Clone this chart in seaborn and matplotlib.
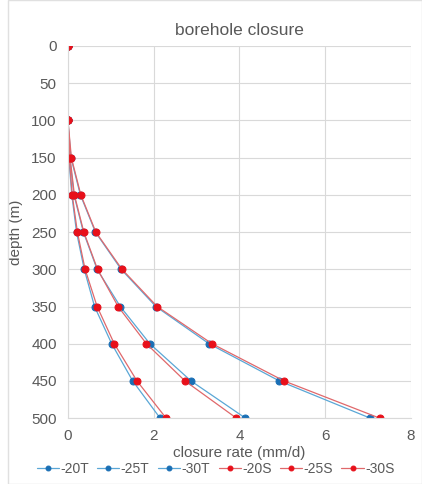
import pandas as pd
import matplotlib.pyplot as plt
import seaborn as sns

depth = [0, 100, 150, 200, 250, 300, 350, 400, 450, 500]

t20 = [0, 0.0, 0.02, 0.09, 0.20, 0.38, 0.62, 1.02, 1.51, 2.15]
t25 = [0, 0.0, 0.04, 0.14, 0.36, 0.68, 1.22, 1.91, 2.87, 4.14]
t30 = [0, 0.0, 0.07, 0.29, 0.64, 1.24, 2.05, 3.29, 4.93, 7.05]
s20 = [0, 0.0, 0.03, 0.10, 0.22, 0.40, 0.68, 1.08, 1.61, 2.29]
s25 = [0, 0.0, 0.05, 0.15, 0.37, 0.69, 1.17, 1.83, 2.73, 3.93]
s30 = [0, 0.0, 0.08, 0.30, 0.65, 1.26, 2.08, 3.36, 5.04, 7.27]

names = ['-20T', '-25T', '-30T', '-20S', '-25S', '-30S']
series = [t20, t25, t30, s20, s25, s30]

rows = []
for name, vals in zip(names, series):
    for d, v in zip(depth, vals):
        rows.append({'series': name, 'depth': d, 'rate': v})
df = pd.DataFrame(rows)

sns.set_style('white')
plt.rcParams['font.family'] = ['Liberation Sans', 'DejaVu Sans']
txt = '#595959'
blue_m, blue_l = '#1a6fb5', '#5aa7d6'
red_m, red_l = '#e8101a', '#e0686b'

fig = plt.figure(figsize=(4.22, 4.84), dpi=100)
ax = fig.add_axes([0.161, 0.136, 0.813, 0.769])

for name in names:
    sub = df[df['series'] == name]
    mc, lc = (blue_m, blue_l) if name.endswith('T') else (red_m, red_l)
    sns.lineplot(data=sub, x='rate', y='depth', ax=ax, sort=False, estimator=None,
                 color=lc, linewidth=0.9, marker='o', markersize=5,
                 markerfacecolor=mc, markeredgecolor=mc, label=name)

ax.set_xlim(0, 8)
ax.set_ylim(500, 0)
ax.set_xticks([0, 2, 4, 6, 8])
ax.set_yticks(range(0, 501, 50))
ax.grid(True, color='#d9d9d9', linewidth=0.8)
for s in ['top', 'right']:
    ax.spines[s].set_visible(False)
ax.spines['left'].set_color('#d9d9d9')
ax.spines['bottom'].set_color('#d9d9d9')
ax.tick_params(colors=txt, labelsize=11, length=0, pad=8)
ax.set_title('borehole closure', color=txt, fontsize=12.5, pad=8)
ax.set_xlabel('closure rate (mm/d)', color=txt, fontsize=11, labelpad=2)
ax.set_ylabel('depth (m)', color=txt, fontsize=11, labelpad=6)

ax.legend(loc='upper center', bbox_to_anchor=(0.43, -0.118), ncol=6, frameon=False,
          fontsize=10, handlelength=1.6, handletextpad=0.1, columnspacing=0.6,
          labelcolor=txt, markerscale=0.7, borderaxespad=0, borderpad=0)

fig.patches.append(plt.Rectangle((0.02, 0.0), 0.98, 1.0, transform=fig.transFigure,
                                 fill=False, edgecolor='#e0e0e0', linewidth=1))
fig.savefig('out.png', dpi=100)
